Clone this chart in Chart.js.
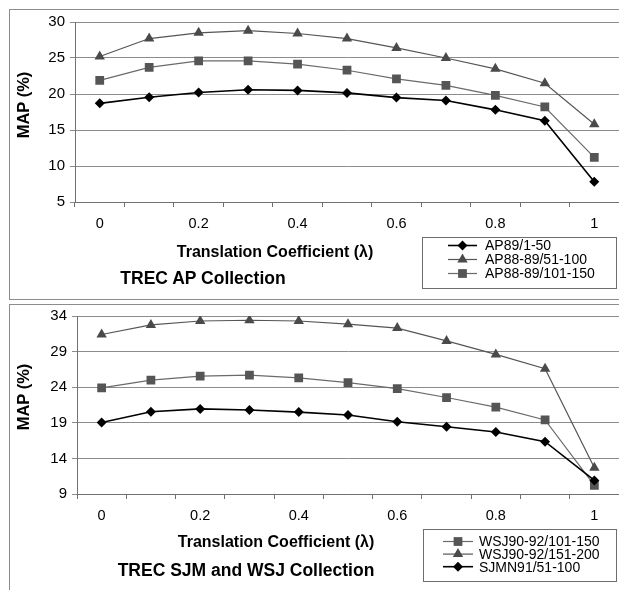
<!DOCTYPE html>
<html>
<head>
<meta charset="utf-8">
<script src="https://cdn.jsdelivr.net/npm/chart.js@4.4.1/dist/chart.umd.min.js"></script>
<style>
  body { margin: 0; background: #fff; width: 619px; height: 590px; overflow: hidden; position: relative; font-family: "Liberation Sans", Arial, sans-serif; }
  .panel { position: absolute; border: 1px solid #8c8c8c; }
  .wrap { position: absolute; left: 0; width: 619px; }
  .txt { position: absolute; font-weight: bold; color: #000; white-space: nowrap; transform: translate(-50%, -50%); }
  .rot { transform: translate(-50%, -50%) rotate(-90deg); }
</style>
</head>
<body>
<div class="panel" style="left:9px; top:9px; width:640px; height:289px;"></div>
<div class="panel" style="left:9px; top:304px; width:640px; height:300px;"></div>

<div class="wrap" style="top:0; height:300px;"><canvas id="apChart" width="619" height="300"></canvas></div>
<div class="wrap" style="top:300px; height:290px;"><canvas id="wsjChart" width="619" height="290"></canvas></div>

<div class="txt" style="left:275px; top:252px; font-size:16px;">Translation Coefficient (λ)</div>
<div class="txt" style="left:203px; top:278px; font-size:17.5px;">TREC AP Collection</div>
<div class="txt rot" style="left:23px; top:105px; font-size:16.5px;">MAP (%)</div>

<div class="txt" style="left:276px; top:542px; font-size:16px;">Translation Coefficient (λ)</div>
<div class="txt" style="left:246px; top:570px; font-size:17.5px;">TREC SJM and WSJ Collection</div>
<div class="txt rot" style="left:23px; top:397px; font-size:16.5px;">MAP (%)</div>

<script>
let lambdas = ['0', '0.1', '0.2', '0.3', '0.4', '0.5', '0.6', '0.7', '0.8', '0.9', '1']
let xTickLabels = ['0', '', '0.2', '', '0.4', '', '0.6', '', '0.8', '', '1']

// TREC AP
let ap89 = [18.7, 19.55, 20.2, 20.6, 20.5, 20.15, 19.5, 19.1, 17.8, 16.3, 7.8]
let ap8889_51 = [25.2, 27.7, 28.5, 28.8, 28.4, 27.7, 26.4, 25.0, 23.5, 21.5, 15.8]
let ap8889_101 = [21.9, 23.7, 24.6, 24.6, 24.15, 23.3, 22.1, 21.2, 19.8, 18.2, 11.2]
let apYTicks = [5, 10, 15, 20, 25, 30]

// TREC SJM / WSJ
let wsj101 = [23.9, 25.0, 25.55, 25.7, 25.3, 24.65, 23.8, 22.55, 21.2, 19.4, 10.2]
let wsj151 = [31.4, 32.75, 33.3, 33.4, 33.3, 32.85, 32.3, 30.5, 28.6, 26.6, 12.7]
let sjmn91 = [19.05, 20.55, 20.95, 20.8, 20.5, 20.1, 19.15, 18.45, 17.7, 16.35, 10.9]
let wsjYTicks = [9, 14, 19, 24, 29, 34]

const FONT = '"Liberation Sans", Arial, sans-serif'

function series(label, data, style){
    let s = {
        diamond: {pointStyle: 'rectRot', pointRadius: 5, color: '#000000', line: '#000000', width: 1.6, order: 0},
        triangle: {pointStyle: 'triangle', pointRadius: 6, color: '#4a4a4a', line: '#555555', width: 1.2, order: 1},
        square: {pointStyle: 'rect', pointRadius: 6.2, color: '#555555', line: '#6a6a6a', width: 1.2, order: 2}
    }[style]
    return {
        label: label,
        data: data,
        order: s.order,
        borderColor: s.line,
        borderWidth: s.width,
        pointStyle: s.pointStyle,
        pointRadius: s.pointRadius,
        pointBackgroundColor: s.color,
        pointBorderColor: s.color,
        pointBorderWidth: 0,
        tension: 0
    }
}

function drawMarker(ctx, style, x, y, r){
    ctx.beginPath()
    if (style === 'rect'){
        let h = r * Math.SQRT1_2
        ctx.rect(x - h, y - h, 2 * h, 2 * h)
    } else if (style === 'rectRot'){
        ctx.moveTo(x - r, y); ctx.lineTo(x, y + r); ctx.lineTo(x + r, y); ctx.lineTo(x, y - r)
    } else {
        let a = 0
        ctx.moveTo(x + Math.sin(a) * r, y - Math.cos(a) * r)
        a += 2 * Math.PI / 3
        ctx.lineTo(x + Math.sin(a) * r, y - Math.cos(a) * r)
        a += 2 * Math.PI / 3
        ctx.lineTo(x + Math.sin(a) * r, y - Math.cos(a) * r)
    }
    ctx.closePath()
    ctx.fill()
}

// legend inside a box, line + marker per series
const boxLegend = {
    id: 'boxLegend',
    afterDraw(chart, args, opts){
        let ctx = chart.ctx
        ctx.save()
        ctx.fillStyle = '#fff'
        ctx.fillRect(opts.x, opts.y, opts.w, opts.h)
        ctx.strokeStyle = '#6e6e6e'
        ctx.lineWidth = 1
        ctx.strokeRect(opts.x + 0.5, opts.y + 0.5, opts.w, opts.h)
        chart.data.datasets.forEach(function (ds, i){
            let y = opts.rowY + i * opts.rowGap
            ctx.strokeStyle = ds.borderColor
            ctx.lineWidth = ds.borderWidth
            ctx.beginPath()
            ctx.moveTo(opts.lineX, y)
            ctx.lineTo(opts.lineX + opts.lineW, y)
            ctx.stroke()
            ctx.fillStyle = ds.pointBackgroundColor
            drawMarker(ctx, ds.pointStyle, opts.lineX + opts.lineW / 2, y, ds.pointRadius)
            ctx.fillStyle = '#000'
            ctx.font = '14px ' + FONT
            ctx.textBaseline = 'middle'
            ctx.fillText(ds.label, opts.textX, y + 1)
        })
        ctx.restore()
    }
}

function makeChart(id, datasets, yTicks, axisW, bottomH, topPad, legend){
    return new Chart(document.getElementById(id), {
        type: 'line',
        data: {labels: lambdas, datasets: datasets},
        plugins: [boxLegend],
        options: {
            responsive: false,
            animation: false,
            layout: {autoPadding: false, padding: {top: topPad, left: 0, right: 0, bottom: 0}},
            plugins: {
                legend: {display: false},
                tooltip: {enabled: false},
                boxLegend: legend
            },
            scales: {
                x: {
                    type: 'category',
                    offset: true,
                    grid: {offset: true, drawOnChartArea: false, drawTicks: true, tickLength: 5, color: '#707070'},
                    border: {color: '#707070'},
                    ticks: {
                        autoSkip: false, maxRotation: 0, padding: 8,
                        color: '#000', font: {family: FONT, size: 14.5},
                        callback: function (v, i){ return xTickLabels[i] }
                    },
                    afterFit: function (scale){
                        scale.height = bottomH
                        scale.paddingLeft = 0
                        scale.paddingRight = 0
                    }
                },
                y: {
                    min: yTicks[0],
                    max: yTicks[yTicks.length - 1],
                    afterBuildTicks: function (scale){ scale.ticks = yTicks.map(function (v){ return {value: v} }) },
                    grid: {color: '#8c8c8c', tickLength: 5},
                    border: {color: '#707070'},
                    ticks: {color: '#000', padding: 5, font: {family: FONT, size: 15}},
                    afterFit: function (scale){ scale.width = axisW }
                }
            }
        }
    })
}

makeChart('apChart', [
    series('AP89/1-50', ap89, 'diamond'),
    series('AP88-89/51-100', ap8889_51, 'triangle'),
    series('AP88-89/101-150', ap8889_101, 'square')
], apYTicks, 75, 98, 22, {x: 422, y: 237, w: 194, h: 51, lineX: 448, lineW: 29, textX: 485, rowY: 245.5, rowGap: 14})

makeChart('wsjChart', [
    series('WSJ90-92/101-150', wsj101, 'square'),
    series('WSJ90-92/151-200', wsj151, 'triangle'),
    series('SJMN91/51-100', sjmn91, 'diamond')
], wsjYTicks, 77, 96, 16, {x: 423, y: 229, w: 193, h: 52, lineX: 443, lineW: 30, textX: 479, rowY: 241.5, rowGap: 12.6})
</script>
</body>
</html>
